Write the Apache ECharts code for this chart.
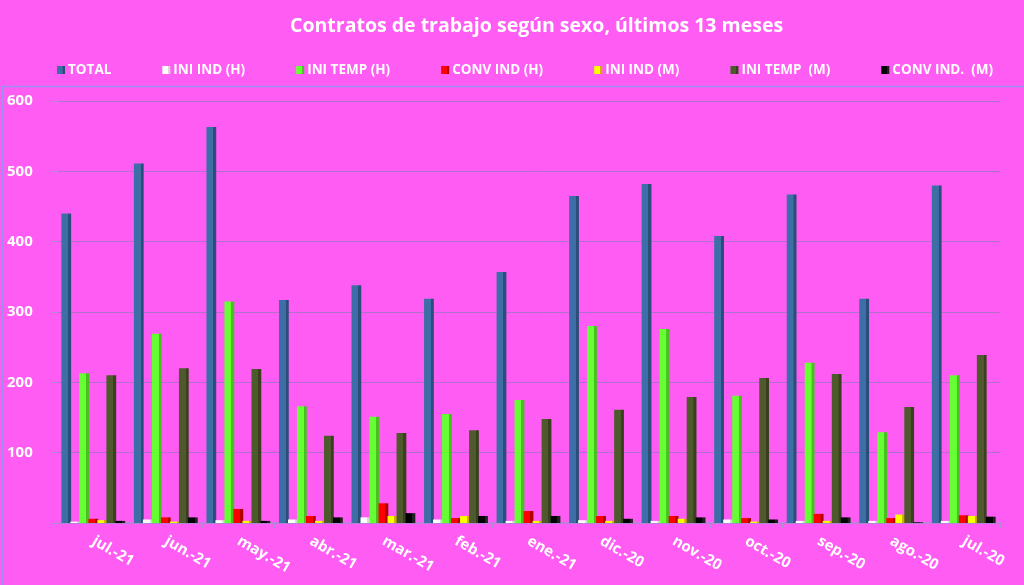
<!DOCTYPE html>
<html>
<head>
<meta charset="utf-8">
<script src="https://cdn.jsdelivr.net/npm/echarts@6/dist/echarts.min.js"></script>
<style>html,body{margin:0;padding:0;background:#ff5cf4;}#c{width:1024px;height:585px;}</style>
</head>
<body>
<div id="c"></div>
<script>
const categories = ['jul.-21','jun.-21','may.-21','abr.-21','mar.-21','feb.-21','ene.-21','dic.-20','nov.-20','oct.-20','sep.-20','ago.-20','jul.-20'];
const seriesNames = ['TOTAL','INI IND (H)','INI TEMP (H)','CONV IND (H)','INI IND (M)','INI TEMP  (M)','CONV IND.  (M)'];
const total     = [440, 511, 563, 317, 338, 319, 357, 465, 482, 408, 467, 319, 480];
const iniIndH   = [2, 5, 4, 5, 8, 5, 3, 4, 3, 5, 3, 3, 3];
const iniTempH  = [213, 269, 315, 166, 151, 155, 175, 280, 276, 181, 228, 129, 210];
const convIndH  = [6, 8, 20, 10, 28, 7, 17, 10, 10, 7, 13, 7, 11];
const iniIndM   = [4, 2, 3, 3, 10, 10, 3, 3, 6, 2, 3, 12, 10];
const iniTempM  = [210, 220, 219, 124, 128, 132, 148, 161, 179, 206, 212, 165, 239];
const convIndM  = [3, 8, 3, 8, 14, 10, 10, 6, 8, 5, 8, 1, 9];
const yTicks = [0, 100, 200, 300, 400, 500, 600];

const allData = [total, iniIndH, iniTempH, convIndH, iniIndM, iniTempM, convIndM];
const colors = ['#3e6ea6', '#ffffff', '#66ff33', '#ff0000', '#ffff00', '#4e5a2c', '#000000'];
const sideColors = ['#2a4d7a', '#d8d8d8', '#48c020', '#b00000', '#d0b000', '#38401e', '#202020'];

const chart = echarts.init(document.getElementById('c'));
chart.setOption({
  backgroundColor: '#ff5cf4',
  animation: false,
  title: {
    text: 'Contratos de trabajo según sexo, últimos 13 meses',
    left: 285, top: 11,
    textStyle: { color: '#ffffff', fontSize: 19.5, fontWeight: 'bold', fontFamily: 'Open Sans' }
  },
  legend: {
    data: seriesNames,
    top: 58, left: 52,
    itemWidth: 8, itemHeight: 8, itemGap: 51,
    icon: 'rect',
    textStyle: { color: '#ffffff', fontSize: 13.5, fontWeight: 'bold', fontFamily: 'Open Sans', padding: [0, 0, 0, -2] }
  },
  graphic: [{
    type: 'rect', left: 0, top: 84, silent: true,
    shape: { width: 1022, height: 500 },
    style: { fill: 'none', stroke: '#9b8ff0', lineWidth: 1.5 }
  }],
  grid: { left: 57, right: 24, top: 101, bottom: 62 },
  xAxis: {
    type: 'category', data: categories,
    axisLine: { lineStyle: { color: '#b48ad8', width: 1.5 } },
    axisTick: { show: true, alignWithLabel: false, lineStyle: { color: '#b48ad8' } },
    axisLabel: { rotate: -30, color: '#ffffff', fontSize: 15, fontWeight: 'bold', fontFamily: 'Open Sans', margin: 17, interval: 0 }
  },
  yAxis: {
    type: 'value', min: yTicks[0], max: yTicks[yTicks.length - 1], interval: 100,
    axisLine: { show: true, lineStyle: { color: '#b48ad8' } },
    axisTick: { show: true, length: 5, lineStyle: { color: '#b48ad8' } },
    splitLine: { lineStyle: { color: '#b070d0', width: 1 } },
    axisLabel: {
      color: '#ffffff', fontSize: 15, fontWeight: 'bold', fontFamily: 'Open Sans',
      align: 'left', margin: 50,
      formatter: v => (v === 0 ? '' : String(v))
    }
  },
  series: seriesNames.map((name, i) => ({
    name: name, type: 'bar', data: allData[i],
    barGap: '-8%', barCategoryGap: '12%',
    itemStyle: {
      color: {
        type: 'linear', x: 0, y: 0, x2: 1, y2: 0,
        colorStops: [
          { offset: 0, color: colors[i] },
          { offset: 0.68, color: colors[i] },
          { offset: 0.7, color: sideColors[i] },
          { offset: 1, color: sideColors[i] }
        ]
      }
    }
  }))
});
</script>
</body>
</html>
